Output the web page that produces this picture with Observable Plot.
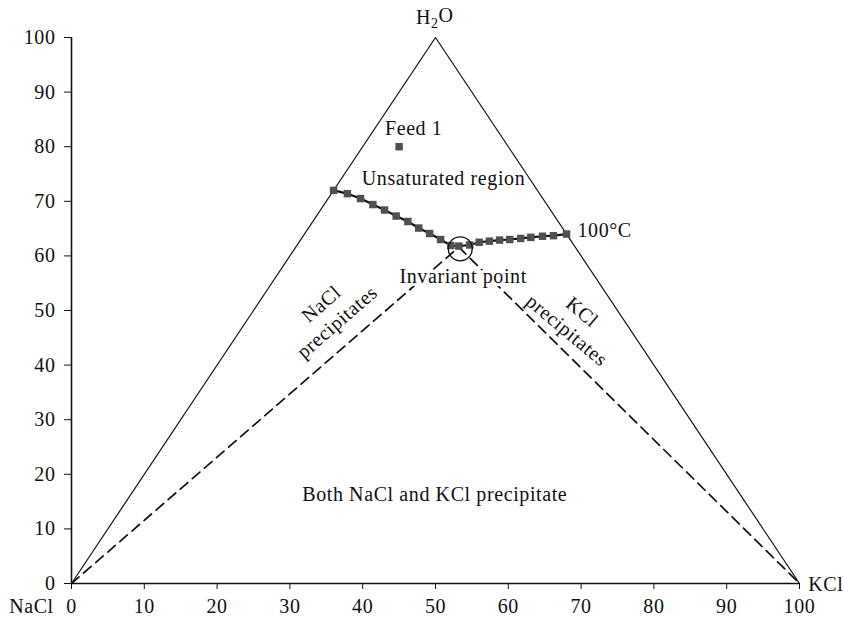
<!DOCTYPE html>
<html><head><meta charset="utf-8">
<script src="https://cdn.jsdelivr.net/npm/d3@7"></script>
<script src="https://cdn.jsdelivr.net/npm/@observablehq/plot@0.6"></script>
<style>body{margin:0;background:#fff} svg text{letter-spacing:0.6px}</style>
</head><body><div id="chart"></div>
<script>
const xTicks = [0, 10, 20, 30, 40, 50, 60, 70, 80, 90, 100];
const yTicks = [0, 10, 20, 30, 40, 50, 60, 70, 80, 90, 100];
const triangleX = [0, 50, 100];
const triangleY = [0, 100, 0];
const curveX = [36.0, 37.9, 39.7, 41.4, 43.0, 44.6, 46.2, 47.7, 49.2, 50.7, 52.1, 53.2, 54.7, 56.0, 57.4, 58.8, 60.2, 61.7, 63.1, 64.7, 66.2, 68.0];
const curveY = [72.0, 71.4, 70.5, 69.4, 68.4, 67.3, 66.3, 65.1, 64.1, 63.0, 61.9, 61.8, 62.0, 62.5, 62.7, 62.9, 63.0, 63.2, 63.4, 63.6, 63.7, 64.0];
const feedX = [45];
const feedY = [80];
const invariantX = [53.4];
const invariantY = [61.3];
const dashLeftX = [0, 53.2];
const dashLeftY = [0, 61.6];
const dashRightX = [53.2, 100];
const dashRightY = [61.6, 0];
const labelText = ["Feed 1", "Unsaturated region", "Invariant point", "Both NaCl and KCl precipitate"];
const labelX = [47.0, 51.1, 53.8, 49.9];
const labelY = [83.3, 74.2, 56.2, 16.3];
const rotText = ["NaCl\nprecipitates", "KCl\nprecipitates"];
const rotX = [35.3, 69.2];
const rotY = [49.7, 48.2];
const rotAngle = [-41, 40];

const curve = curveX.map((x, i) => ({x, y: curveY[i]}));
const tri = triangleX.map((x, i) => ({x, y: triangleY[i]}));
const dl = dashLeftX.map((x, i) => ({x, y: dashLeftY[i]}));
const dr = dashRightX.map((x, i) => ({x, y: dashRightY[i]}));
const labels = labelText.map((t, i) => ({t, x: labelX[i], y: labelY[i]}));
const rots = rotText.map((t, i) => ({t, x: rotX[i], y: rotY[i], a: rotAngle[i]}));

const font = "'Liberation Serif', 'DejaVu Serif', serif";
const fs = 20;

const chart = Plot.plot({
  width: 844,
  height: 622,
  marginLeft: 71,
  marginRight: 45,
  marginTop: 37,
  marginBottom: 39,
  style: {fontFamily: font, fontSize: fs + "px", background: "#fff", color: "#111", overflow: "visible"},
  x: {domain: [0, 100], axis: null},
  y: {domain: [0, 100], axis: null},
  marks: [
    Plot.axisX({ticks: xTicks, tickSize: 6, tickPadding: 9, tickFormat: d => String(d), label: null, fontSize: fs}),
    Plot.axisY({ticks: yTicks, tickSize: 7, tickPadding: 9, tickFormat: d => String(d), label: null, fontSize: fs}),
    Plot.ruleY([0], {stroke: "#111", strokeWidth: 1.6}),
    Plot.ruleX([0], {stroke: "#111", strokeWidth: 1.6}),
    Plot.line(tri, {x: "x", y: "y", stroke: "#111", strokeWidth: 1.2}),
    Plot.line(dl, {x: "x", y: "y", stroke: "#111", strokeWidth: 1.7, strokeDasharray: "10,6"}),
    Plot.line(dr, {x: "x", y: "y", stroke: "#111", strokeWidth: 1.7, strokeDasharray: "10,6"}),
    Plot.line(curve, {x: "x", y: "y", stroke: "#111", strokeWidth: 2.2}),
    Plot.dot(curve, {x: "x", y: "y", symbol: "square", r: 4.2, fill: "#505050", stroke: "none"}),
    Plot.dot(feedX.map((x, i) => ({x, y: feedY[i]})), {x: "x", y: "y", symbol: "square", r: 4.2, fill: "#505050", stroke: "none"}),
    Plot.dot(invariantX.map((x, i) => ({x, y: invariantY[i]})), {x: "x", y: "y", r: 12, stroke: "#111", strokeWidth: 1.3, fill: "none"}),
    Plot.text(labels, {x: "x", y: "y", text: "t", fontSize: fs, fill: "#111", stroke: "white", strokeWidth: 6}),
    Plot.text(rots, {x: "x", y: "y", text: "t", rotate: "a", fontSize: fs, lineHeight: 1.2, fill: "#111"}),
    Plot.text([{t: "100°C", x: 69.5, y: 64.7}], {x: "x", y: "y", text: "t", textAnchor: "start", fontSize: fs, fill: "#111"}),
    Plot.text([{t: "NaCl", x: -5.5, y: -4.3}], {x: "x", y: "y", text: "t", fontSize: fs, fill: "#111"}),
    Plot.text([{t: "KCl", x: 101.2, y: -0.2}], {x: "x", y: "y", text: "t", textAnchor: "start", fontSize: fs, fill: "#111"}),
    Plot.text([{t: "H2O", x: 49.9, y: 103.7}], {x: "x", y: "y", text: "t", fontSize: fs, fill: "#111"})
  ]
});
document.getElementById("chart").appendChild(chart);

// render subscript in H2O
d3.select(chart).selectAll("text").filter(function() { return this.textContent === "H2O"; }).each(function() {
  const t = d3.select(this);
  t.text(null);
  t.append("tspan").text("H");
  t.append("tspan").attr("font-size", "14px").attr("dy", "0.3em").text("2");
  t.append("tspan").attr("dy", "-0.3em").text("O");
});
</script>
</body></html>
